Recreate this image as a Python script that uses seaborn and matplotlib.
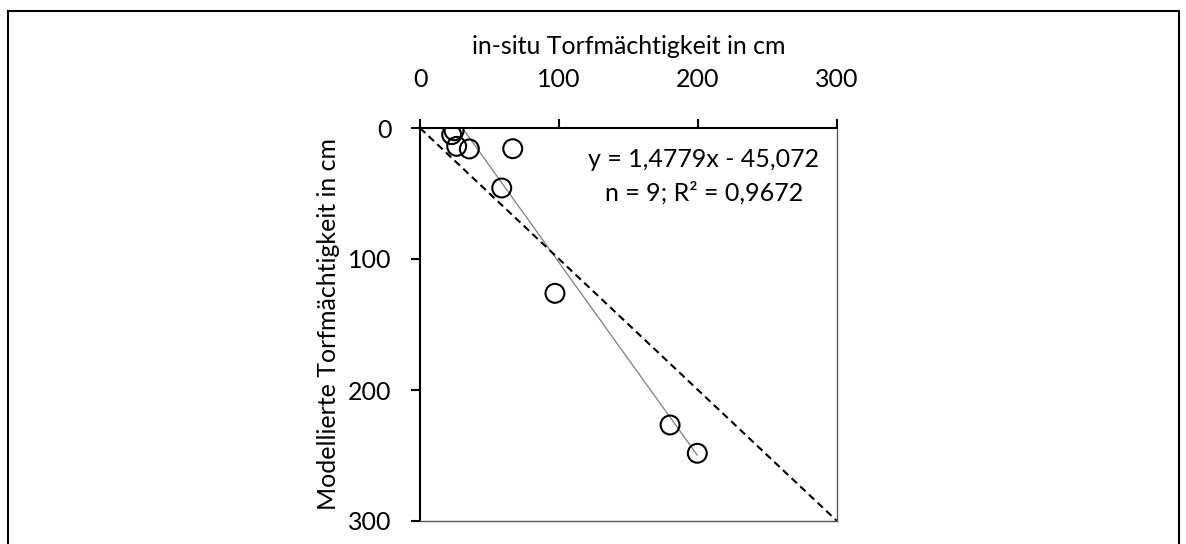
import matplotlib
matplotlib.use("Agg")
import matplotlib.pyplot as plt
import seaborn as sns
import pandas as pd
import numpy as np

# ---- data ----
insitu_cm = [24.5, 22.8, 26.4, 35.5, 66.7, 58.8, 97.1, 179.9, 199.5]
modelled_cm = [2.1, 5.1, 14.0, 16.0, 15.8, 45.8, 126.2, 226.7, 248.3]
trend_slope = 1.4779
trend_intercept = -45.072
identity_line = [0, 300]
axis_ticks = [0, 100, 200, 300]
x_label = "in-situ Torfmächtigkeit in cm"
y_label = "Modellierte Torfmächtigkeit in cm"
eq_text = "y = 1,4779x - 45,072"
stat_text = "n = 9; R² = 0,9672"

sns.set_theme(style="white")
plt.rcParams['font.family'] = ['Lato', 'DejaVu Sans']

FS = 18
W, H = 1186, 544
fig = plt.figure(figsize=(W / 100, H / 100), dpi=100)
ax = fig.add_axes([420 / W, 1 - 521 / H, 417 / W, 393 / H])

df = pd.DataFrame({"insitu": insitu_cm, "modelled": modelled_cm})

# trendline (Excel style: from min x to max x)
trend_x = np.array([df["insitu"].min(), df["insitu"].max()])
ax.plot(trend_x, trend_slope * trend_x + trend_intercept,
        color="#7f7f7f", lw=0.9, zorder=2)
# 1:1 line
ax.plot(identity_line, identity_line, color="black", lw=1.5,
        ls=(0, (3.5, 2.2)), zorder=2)

sns.scatterplot(data=df, x="insitu", y="modelled", ax=ax, marker="o", s=185,
                facecolors="none", edgecolor="black", linewidth=1.5, zorder=3)

ax.set_xlim(0, 300)
ax.set_ylim(300, 0)
ax.set_xticks(axis_ticks)
ax.set_yticks(axis_ticks)
ax.xaxis.tick_top()
ax.xaxis.set_label_position("top")

for side in ["left", "top"]:
    ax.spines[side].set_color("black")
    ax.spines[side].set_linewidth(1.5)
for side in ["right", "bottom"]:
    ax.spines[side].set_color("#595959")
    ax.spines[side].set_linewidth(1.0)
    ax.spines[side].set_visible(True)

ax.tick_params(axis="x", top=True, bottom=False, labeltop=True, labelbottom=False,
               direction="out", length=6.5, width=1.5, color="black",
               pad=20, labelsize=FS, labelcolor="black")
ax.tick_params(axis="y", left=True, direction="out", length=6.5, width=1.5,
               color="black", pad=14, labelsize=FS, labelcolor="black")

ax.set_xlabel(x_label, fontsize=FS, labelpad=10, color="black")
ax.set_ylabel(y_label, fontsize=FS, labelpad=6, color="black")

ax.text(204.3, 29.8, eq_text, ha="center", va="baseline", fontsize=FS, color="black")
ax.text(204.3, 55.7, stat_text, ha="center", va="baseline", fontsize=FS, color="black")

# outer chart frame
fig.add_artist(plt.Rectangle((7.5 / W, -0.05), (1178.5 - 7.5) / W, 1 - 11 / H + 0.05,
                             transform=fig.transFigure, fill=False,
                             ec="black", lw=1.5))

fig.savefig("out.png", dpi=100)
